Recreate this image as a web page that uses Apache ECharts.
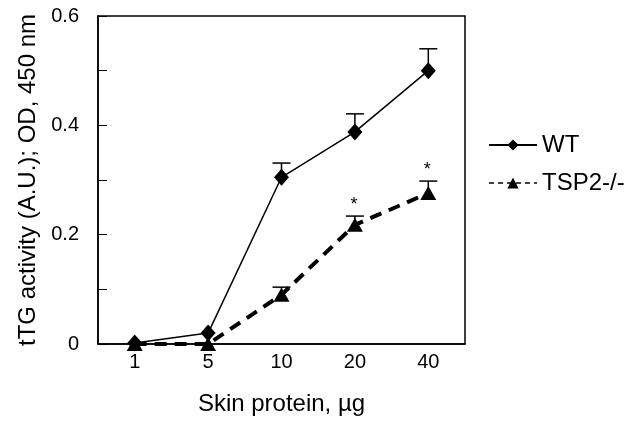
<!DOCTYPE html>
<html>
<head>
<meta charset="utf-8">
<script src="https://cdn.jsdelivr.net/npm/echarts@6/dist/echarts.min.js"></script>
<style>
  html, body { margin: 0; padding: 0; background: #fff; }
  #chart { width: 636px; height: 421px; }
</style>
</head>
<body>
<div id="chart"></div>
<script>
const categories = ['1', '5', '10', '20', '40']
const wtValues = [0.002, 0.02, 0.305, 0.388, 0.5]
const wtErrors = [0, 0, 0.026, 0.033, 0.04]
const tspValues = [0, 0, 0.09, 0.218, 0.276]
const tspErrors = [0, 0, 0.014, 0.016, 0.022]
const tspMarks = ['', '', '', '*', '*']
const yLabels = ['0', '', '0.2', '', '0.4', '', '0.6']

const font = 'Liberation Sans, Arial, sans-serif'
const chart = echarts.init(document.getElementById('chart'))

// upward-only error bars, optional significance mark above the cap
const errorBars = (values, errors, marks) => ({
  type: 'custom',
  silent: true,
  z: 1,
  data: values.map((v, i) => [i, v, v + errors[i]]),
  renderItem: (params, api) => {
    const base = api.coord([api.value(0), api.value(1)])
    const top = api.coord([api.value(0), api.value(2)])
    const children = []
    if (api.value(2) > api.value(1)) {
      children.push(
        { type: 'line', shape: { x1: base[0], y1: base[1], x2: top[0], y2: top[1] }, style: { stroke: '#000', lineWidth: 1.5 } },
        { type: 'line', shape: { x1: top[0] - 9, y1: top[1], x2: top[0] + 9, y2: top[1] }, style: { stroke: '#000', lineWidth: 1.5 } }
      )
    }
    const mark = marks ? marks[params.dataIndex] : ''
    if (mark) {
      children.push({
        type: 'text',
        style: { text: mark, x: top[0] - 1, y: top[1] - 11, align: 'center', verticalAlign: 'middle', fontSize: 18, fontFamily: font, fill: '#000' }
      })
    }
    return { type: 'group', children }
  }
})

chart.setOption({
  animation: false,
  backgroundColor: '#fff',
  grid: {
    left: 98, right: 171, top: 16, bottom: 77,
    show: true, borderColor: '#000', borderWidth: 1.5
  },
  legend: {
    orient: 'vertical',
    left: 483, top: 128,
    itemWidth: 48, itemHeight: 14, itemGap: 14,
    textStyle: { fontFamily: font, fontSize: 24, color: '#000' },
    data: [
      { name: 'WT' },
      { name: 'TSP2-/-', lineStyle: { width: 1.5, type: [5, 4] } }
    ]
  },
  xAxis: {
    type: 'category',
    data: categories,
    boundaryGap: true,
    name: 'Skin protein, µg',
    nameLocation: 'middle',
    nameGap: 48,
    nameTextStyle: { fontFamily: font, fontSize: 24, color: '#000' },
    axisLine: { lineStyle: { color: '#000', width: 1.5 } },
    axisTick: { inside: true, length: 5, lineStyle: { color: '#000' } },
    axisLabel: { fontFamily: font, fontSize: 20, color: '#000', margin: 8 }
  },
  yAxis: {
    type: 'value',
    min: 0, max: 0.6, interval: 0.1,
    name: 'tTG activity (A.U.); OD, 450 nm',
    nameLocation: 'middle',
    nameGap: 57,
    nameTextStyle: { fontFamily: font, fontSize: 24, color: '#000' },
    splitLine: { show: false },
    axisLine: { show: true, lineStyle: { color: '#000', width: 1.5 } },
    axisTick: { show: true, inside: true, length: 9, lineStyle: { color: '#000' } },
    axisLabel: {
      fontFamily: font, fontSize: 20, color: '#000', margin: 19,
      formatter: (v) => yLabels[Math.round(v * 10)]
    }
  },
  series: [
    errorBars(wtValues, wtErrors, null),
    errorBars(tspValues, tspErrors, tspMarks),
    {
      name: 'WT',
      type: 'line',
      data: wtValues,
      clip: false,
      z: 3,
      symbol: 'diamond',
      symbolSize: [15, 17],
      lineStyle: { color: '#000', width: 1.5 },
      itemStyle: { color: '#000' }
    },
    {
      name: 'TSP2-/-',
      type: 'line',
      data: tspValues,
      clip: false,
      z: 2,
      symbol: 'triangle',
      symbolSize: [16, 14],
      lineStyle: { color: '#000', width: 4, type: [12, 8] },
      itemStyle: { color: '#000' }
    }
  ]
})
</script>
</body>
</html>
